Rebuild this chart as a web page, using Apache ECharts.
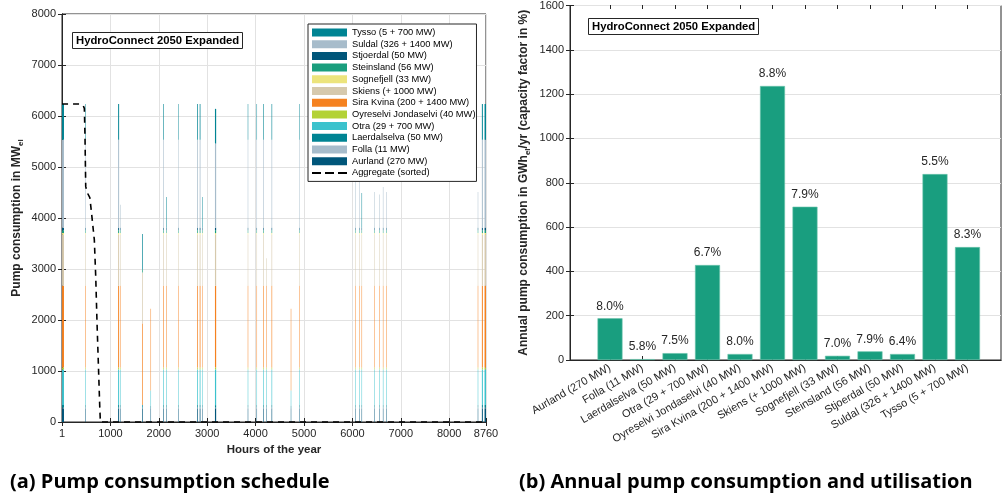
<!DOCTYPE html>
<html><head><meta charset="utf-8">
<script src="https://cdn.jsdelivr.net/npm/echarts@6/dist/echarts.min.js"></script>
<style>html,body{margin:0;padding:0;background:#fff}#c{width:1006px;height:495px}</style>
</head><body><div id="c"></div>
<script>
// ---------- (a) Pump consumption schedule: pumping events ----------
const eventStartHour = [1,485,1160,1200,1655,1830,2090,2150,2400,2795,2845,2900,3160,3838,4020,4160,4215,4330,4727,4905,6056,6140,6190,6450,6553,6630,6700,8590,8675,8730];
const eventDurationH = [40,10,20,2,14,3,12,10,6,15,15,3,25,3,3,12,3,12,2,8,3,8,6,3,4,3,3,3,20,30];
// MW per plant during each event (stacking order: Aurland at the bottom)
const aurland      = [270,270,270,270,270,270,270,270,270,270,270,270,270,270,270,270,270,270,270,270,270,270,270,270,270,270,270,270,270,270];
const folla        = [11,11,11,11,11,0,11,11,11,11,11,11,11,11,11,11,11,11,0,11,11,11,11,11,11,11,11,11,11,11];
const laerdalselva = [50,50,50,50,50,50,50,50,50,50,50,50,50,50,50,50,50,50,50,50,50,50,50,50,50,50,50,50,50,50];
const otra         = [700,700,700,700,0,300,700,700,700,700,700,700,700,700,700,700,700,700,300,700,700,700,700,700,700,700,700,700,700,700];
const oyreselvi    = [40,40,40,40,0,0,40,40,40,40,40,40,40,40,40,40,40,40,0,40,40,40,40,40,40,40,40,40,40,40];
const siraKvina    = [1600,1600,1600,1600,1600,1600,1600,1600,1600,1600,1600,1600,1600,1600,1600,1600,1600,1600,1600,1600,1600,1600,1600,1600,1600,1600,1600,1600,1600,1600];
const skiens       = [1000,1000,1000,1000,1000,0,1000,1000,1000,1000,1000,1000,1000,1000,1000,1000,540,1000,0,1000,1000,1000,1000,1000,1000,1000,1000,1000,1000,1000];
const sognefjell   = [33,33,33,33,0,0,33,33,33,33,33,33,33,33,33,33,0,33,0,33,33,33,33,33,33,33,33,33,33,33];
const steinsland   = [56,56,56,56,56,0,56,56,56,56,56,56,56,56,56,56,0,56,0,56,56,56,56,56,56,56,56,56,56,56];
const stjoerdal    = [50,50,50,50,0,0,50,50,50,50,50,50,50,50,50,50,0,50,0,50,50,50,50,50,50,50,50,50,50,50];
const suldal       = [1726,1726,1726,450,0,0,1726,0,1726,1726,1726,0,1650,1726,1726,1726,0,1726,0,1726,900,900,0,700,650,800,700,700,1726,1726];
const tysso        = [700,700,700,0,700,0,700,600,700,700,700,600,680,700,700,700,0,700,0,700,0,0,680,0,0,0,0,0,700,700];

// Aggregate (sorted) duration curve
const aggHours = [1,380,440,462,475,490,520,545,575,610,668,697,724,751,780,793,8760];
const aggMW    = [6236,6236,6200,6150,5600,4620,4500,4470,4400,4100,3570,2850,1935,1150,300,0,0];

// ---------- (b) Annual pump consumption ----------
const stations = ['Aurland (270 MW)','Folla (11 MW)','Laerdalselva (50 MW)','Otra (29 + 700 MW)','Oyreselvi Jondaselvi (40 MW)','Sira Kvina (200 + 1400 MW)','Skiens (+ 1000 MW)','Sognefjell (33 MW)','Steinsland (56 MW)','Stjoerdal (50 MW)','Suldal (326 + 1400 MW)','Tysso (5 + 700 MW)'];
const annualGWh = [188,4,31,428,27,1235,691,19,39,27,838,509];
const capacityFactorPct = [8.0,5.8,7.5,6.7,8.0,8.8,7.9,7.0,7.9,6.4,5.5,8.3];

// ---------- build ----------
const plantSeries = [
  ['Aurland (270 MW)', aurland, '#00567a'],
  ['Folla (11 MW)', folla, '#a7bccb'],
  ['Laerdalselva (50 MW)', laerdalselva, '#008493'],
  ['Otra (29 + 700 MW)', otra, '#3bc2cd'],
  ['Oyreselvi Jondaselvi (40 MW)', oyreselvi, '#b3d236'],
  ['Sira Kvina (200 + 1400 MW)', siraKvina, '#f58220'],
  ['Skiens (+ 1000 MW)', skiens, '#d6c9ad'],
  ['Sognefjell (33 MW)', sognefjell, '#ece47c'],
  ['Steinsland (56 MW)', steinsland, '#1a9e7d'],
  ['Stjoerdal (50 MW)', stjoerdal, '#00567a'],
  ['Suldal (326 + 1400 MW)', suldal, '#a7bccb'],
  ['Tysso (5 + 700 MW)', tysso, '#008493']
];
const FONT = "'Liberation Sans', Arial, Helvetica, sans-serif";
const AX = '#262626';
const GRID = '#e2e2e2';

const base = eventStartHour.map(() => 0);
const series = [];
plantSeries.forEach(([name, vals, color]) => {
  const data = eventStartHour.map((h, i) => {
    const b = base[i], t = b + vals[i];
    base[i] = t;
    return [h, h + eventDurationH[i], b, t];
  });
  series.push({
    name, type: 'custom', xAxisIndex: 0, yAxisIndex: 0, clip: true,
    itemStyle: { color },
    encode: { x: [0, 1], y: [2, 3] },
    data,
    renderItem(params, api) {
      const x0 = api.value(0), x1 = api.value(1), b = api.value(2), t = api.value(3);
      if (t <= b) return null;
      const p0 = api.coord([x0, t]), p1 = api.coord([x1, b]);
      return { type: 'rect', shape: { x: p0[0], y: p0[1], width: Math.max(p1[0] - p0[0], 0.45), height: p1[1] - p0[1] },
               style: { fill: color } };
    }
  });
});
series.push({
  name: 'Aggregate (sorted)', type: 'line', xAxisIndex: 0, yAxisIndex: 0, symbol: 'none', z: 5,
  data: aggHours.map((h, i) => [h, aggMW[i]]),
  lineStyle: { color: '#000', width: 1.6, type: [6, 5] }, itemStyle: { color: '#000' }
});
series.push({
  type: 'bar', xAxisIndex: 4, yAxisIndex: 4, barWidth: 25,
  data: annualGWh,
  itemStyle: { color: '#199e7f', borderColor: '#6cc4ad', borderWidth: 0.6 },
  label: { show: true, position: 'top', distance: 6, color: AX, fontFamily: FONT, fontSize: 12,
           formatter: p => capacityFactorPct[p.dataIndex].toFixed(1) + '%' }
});

const legendData = plantSeries.slice().reverse().map(p => ({ name: p[0], icon: 'rect' }));
legendData.push({ name: 'Aggregate (sorted)', icon: 'path://M0,0L0.01,0M0,3h9v2h-9zM13,3h9v2h-9zM26,3h9v2h-9zM35,8L34.99,8' });

const tickStyle = { show: true, inside: true, length: 4, lineStyle: { color: AX } };
const catTick = { show: true, inside: true, length: 4, alignWithLabel: true, interval: 0, lineStyle: { color: AX } };
const lineStyleAx = { show: true, lineStyle: { color: AX, width: 1 } };
const lbl = { color: AX, fontFamily: FONT, fontSize: 11 };
const nameStyle = (size) => ({ fontFamily: FONT, fontSize: size, fontWeight: 'bold', color: AX, lineHeight: 16,
  rich: { sub: { fontFamily: FONT, fontSize: 8, fontWeight: 'bold', color: AX, lineHeight: 8, verticalAlign: 'bottom' } } });

const option = {
  animation: false,
  textStyle: { fontFamily: FONT },
  title: [
    { text: 'HydroConnect 2050 Expanded', left: 72, top: 32, padding: [3, 4], borderColor: AX, borderWidth: 1, backgroundColor: '#fff',
      textStyle: { fontFamily: FONT, fontSize: 11.3, fontWeight: 'bold', color: '#000' } },
    { text: 'HydroConnect 2050 Expanded', left: 588, top: 18, padding: [3, 4], borderColor: AX, borderWidth: 1, backgroundColor: '#fff',
      textStyle: { fontFamily: FONT, fontSize: 11.3, fontWeight: 'bold', color: '#000' } }
  ],
  legend: {
    orient: 'vertical', left: 308, top: 24, data: legendData,
    itemWidth: 35, itemHeight: 8, itemGap: 0.7, padding: [3, 1, 3, 4],
    borderColor: AX, borderWidth: 1, backgroundColor: '#fff', borderRadius: 0,
    textStyle: { fontFamily: FONT, fontSize: 9.3, color: '#000', lineHeight: 11 }
  },
  grid: [
    { left: 62, top: 14, width: 424, height: 408, show: true, borderColor: AX, borderWidth: 1, backgroundColor: 'transparent' },
    { left: 570, top: 5, width: 431, height: 355, show: true, borderColor: AX, borderWidth: 1, backgroundColor: 'transparent' },
    { left: 593.75, top: 5, width: 390, height: 355 }
  ],
  xAxis: [
    { type: 'value', gridIndex: 0, min: 0, max: 8760, interval: 1000,
      axisLine: lineStyleAx, axisTick: tickStyle,
      axisLabel: Object.assign({ margin: 6, formatter: v => v === 0 ? '1' : String(v) }, lbl),
      splitLine: { show: true, lineStyle: { color: GRID } },
      name: 'Hours of the year', nameLocation: 'middle', nameGap: 22,
      nameTextStyle: { fontFamily: FONT, fontSize: 11.5, fontWeight: 'bold', color: AX } },
    { type: 'value', gridIndex: 0, position: 'top', min: 0, max: 8760, interval: 1000,
      axisLine: lineStyleAx, axisTick: tickStyle, axisLabel: { show: false }, splitLine: { show: false } },
    { type: 'value', gridIndex: 1, min: 0, max: 1, axisLine: lineStyleAx, axisTick: { show: false }, axisLabel: { show: false }, splitLine: { show: false } },
    { type: 'value', gridIndex: 1, position: 'top', min: 0, max: 1, axisLine: lineStyleAx, axisTick: { show: false }, axisLabel: { show: false }, splitLine: { show: false } },
    { type: 'category', gridIndex: 2, data: stations, axisLine: { show: false }, axisTick: catTick,
      axisLabel: Object.assign({ rotate: 30, interval: 0, margin: 7 }, lbl) },
    { type: 'category', gridIndex: 2, position: 'top', data: stations, axisLine: { show: false }, axisTick: catTick,
      axisLabel: { show: false, interval: 0 } }
  ],
  yAxis: [
    { type: 'value', gridIndex: 0, min: 0, max: 8000, interval: 1000,
      axisLine: lineStyleAx, axisTick: tickStyle, axisLabel: Object.assign({ margin: 6, formatter: v => String(v) }, lbl),
      splitLine: { show: true, lineStyle: { color: GRID } },
      name: 'Pump consumption in MW{sub|el}', nameLocation: 'middle', nameGap: 37, nameTextStyle: nameStyle(12) },
    { type: 'value', gridIndex: 0, position: 'right', min: 0, max: 8000, interval: 1000,
      axisLine: lineStyleAx, axisTick: tickStyle, axisLabel: { show: false }, splitLine: { show: false } },
    { type: 'value', gridIndex: 1, min: 0, max: 1600, interval: 200,
      axisLine: lineStyleAx, axisTick: tickStyle, axisLabel: Object.assign({ margin: 6, formatter: v => String(v) }, lbl),
      splitLine: { show: true, lineStyle: { color: GRID } },
      name: 'Annual pump consumption in GWh{sub|el}/yr (capacity factor in %)', nameLocation: 'middle', nameGap: 38,
      nameTextStyle: nameStyle(12) },
    { type: 'value', gridIndex: 1, position: 'right', min: 0, max: 1600, interval: 200,
      axisLine: lineStyleAx, axisTick: tickStyle, axisLabel: { show: false }, splitLine: { show: false } },
    { type: 'value', gridIndex: 2, min: 0, max: 1600, interval: 200, show: false }
  ],
  graphic: [
    { type: 'text', left: 10, top: 472, style: { text: '(a) Pump consumption schedule', font: "bold 20px 'Open Sans', 'Noto Sans', sans-serif", fill: '#000' } },
    { type: 'text', left: 519, top: 472, style: { text: '(b) Annual pump consumption and utilisation', font: "bold 20px 'Open Sans', 'Noto Sans', sans-serif", fill: '#000' } }
  ],
  series
};
const chart = echarts.init(document.getElementById('c'), null, { renderer: 'canvas' });
chart.setOption(option);
</script></body></html>
